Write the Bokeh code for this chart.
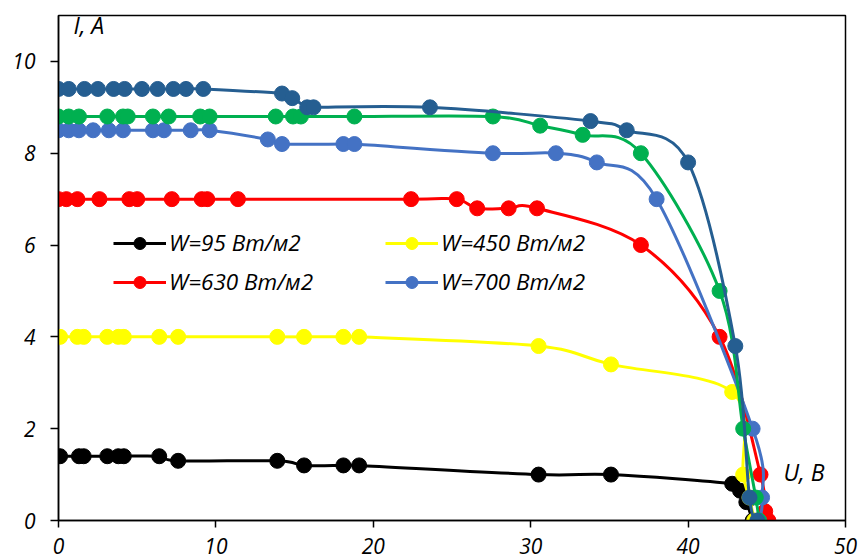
import numpy as np
from bokeh.plotting import figure
from bokeh.models import Legend, LegendItem, Label, FixedTicker, Range1d
from bokeh.embed import file_html
from bokeh.resources import INLINE

# ---- data (U, V ; I, A) ----
u95 = [0.1, 1.3, 1.6, 3.1, 3.8, 4.15, 6.4, 7.6, 13.9, 15.6, 18.1, 19.1, 30.5, 35.1, 42.8, 43.3, 43.7, 44.1]
i95 = [1.4, 1.4, 1.4, 1.4, 1.4, 1.4, 1.4, 1.3, 1.3, 1.2, 1.2, 1.2, 1.0, 1.0, 0.8, 0.65, 0.4, 0.0]

u450 = [0.1, 1.2, 1.6, 3.1, 3.8, 4.15, 6.4, 7.6, 13.9, 15.6, 18.1, 19.1, 30.5, 35.1, 42.8, 43.5, 43.9, 44.2]
i450 = [4.0, 4.0, 4.0, 4.0, 4.0, 4.0, 4.0, 4.0, 4.0, 4.0, 4.0, 4.0, 3.8, 3.4, 2.8, 1.0, 0.5, 0.0]

u630 = [0.0, 0.5, 1.2, 2.6, 4.5, 5.0, 7.2, 9.1, 9.45, 11.4, 22.4, 25.3, 26.6, 28.6, 30.4, 37.0, 42.0, 44.6, 44.9, 45.1]
i630 = [7.0, 7.0, 7.0, 7.0, 7.0, 7.0, 7.0, 7.0, 7.0, 7.0, 7.0, 7.0, 6.8, 6.8, 6.8, 6.0, 4.0, 1.0, 0.2, 0.0]

u700 = [0.0, 0.65, 1.3, 2.2, 3.2, 4.1, 6.0, 6.7, 8.4, 9.6, 13.3, 14.2, 18.1, 18.8, 27.6, 31.6, 34.2, 38.0, 44.1, 44.7, 44.5]
i700 = [8.5, 8.5, 8.5, 8.5, 8.5, 8.5, 8.5, 8.5, 8.5, 8.5, 8.3, 8.2, 8.2, 8.2, 8.0, 8.0, 7.8, 7.0, 2.0, 0.5, 0.0]

u_green = [0.0, 0.65, 1.3, 3.1, 4.1, 4.4, 6.0, 7.0, 9.0, 9.6, 13.8, 14.9, 15.4, 18.8, 27.6, 30.6, 33.3, 37.0, 42.0, 43.5, 44.3, 44.5]
i_green = [8.8, 8.8, 8.8, 8.8, 8.8, 8.8, 8.8, 8.8, 8.8, 8.8, 8.8, 8.8, 8.8, 8.8, 8.8, 8.6, 8.4, 8.0, 5.0, 2.0, 0.5, 0.0]

u_dark = [0.0, 0.65, 1.65, 2.5, 3.5, 4.2, 5.3, 6.3, 7.3, 8.1, 9.2, 14.2, 14.85, 15.8, 16.2, 23.6, 33.8, 36.1, 40.0, 43.0, 43.9, 44.4]
i_dark = [9.4, 9.4, 9.4, 9.4, 9.4, 9.4, 9.4, 9.4, 9.4, 9.4, 9.4, 9.3, 9.2, 9.0, 9.0, 9.0, 8.7, 8.5, 7.8, 3.8, 0.5, 0.0]

series = [
    ("W=95 Вт/м2", u95, i95, "#000000", True),
    ("W=450 Вт/м2", u450, i450, "#FFFF00", True),
    ("W=630 Вт/м2", u630, i630, "#FF0000", True),
    ("W=700 Вт/м2", u700, i700, "#4472C4", True),
    ("", u_green, i_green, "#00B050", False),
    ("", u_dark, i_dark, "#255E91", False),
]

x_ticks = [0, 10, 20, 30, 40, 50]
y_ticks = [0, 2, 4, 6, 8, 10]

FONT = "Open Sans"


def bezier_controls(x, y, t=1.0 / 6.0):
    """Smoothed-line control points (Catmull-Rom style) for segments between data points."""
    x = np.asarray(x, float)
    y = np.asarray(y, float)
    n = len(x)
    xp = np.concatenate([[x[0]], x, [x[-1]]])
    yp = np.concatenate([[y[0]], y, [y[-1]]])
    cx0 = x[:-1] + (xp[2:n + 1] - xp[0:n - 1]) * t
    cy0 = y[:-1] + (yp[2:n + 1] - yp[0:n - 1]) * t
    cx1 = x[1:] - (xp[3:n + 2] - xp[1:n]) * t
    cy1 = y[1:] - (yp[3:n + 2] - yp[1:n]) * t
    return dict(x0=x[:-1], y0=y[:-1], x1=x[1:], y1=y[1:], cx0=cx0, cy0=cy0, cx1=cx1, cy1=cy1)


p = figure(frame_width=787, frame_height=505,
           min_border_left=58, min_border_right=14, min_border_top=15, min_border_bottom=40,
           x_range=Range1d(0, 50), y_range=Range1d(0, 11),
           output_backend="svg", toolbar_location=None)
p.background_fill_color = "white"
p.border_fill_color = "white"
p.outline_line_color = "black"
p.outline_line_width = 1.5
p.xgrid.visible = False
p.ygrid.visible = False

for ax, ticks, standoff, tick_out in ((p.xaxis, x_ticks, 10, 7), (p.yaxis, y_ticks, 15, 8)):
    ax.ticker = FixedTicker(ticks=ticks)
    ax.axis_line_color = "black"
    ax.axis_line_width = 1.5
    ax.major_tick_line_color = "black"
    ax.major_tick_line_width = 1.5
    ax.major_tick_out = tick_out
    ax.major_tick_in = 0
    ax.minor_tick_out = 0
    ax.minor_tick_in = 0
    ax.major_label_text_font = FONT
    ax.major_label_text_font_style = "italic"
    ax.major_label_text_font_size = "21px"
    ax.major_label_text_color = "black"
    ax.major_label_standoff = standoff

items = {}
for name, u, i, color, in_legend in series:
    seg = bezier_controls(u, i)
    r_line = p.bezier(x0=seg["x0"], y0=seg["y0"], x1=seg["x1"], y1=seg["y1"],
                      cx0=seg["cx0"], cy0=seg["cy0"], cx1=seg["cx1"], cy1=seg["cy1"],
                      line_color=color, line_width=3)
    r_pts = p.scatter(u, i, marker="circle", size=15, fill_color=color, line_color=color)
    if in_legend:
        items[name] = LegendItem(label=name, renderers=[r_line, r_pts])


def make_legend(names, x):
    lg = Legend(items=[items[n] for n in names], location=(x, 223),
                orientation="vertical", glyph_width=53, glyph_height=30,
                label_standoff=3, spacing=8, padding=0, margin=0,
                label_text_font=FONT, label_text_font_style="italic",
                label_text_font_size="22.5px", label_text_color="black",
                background_fill_alpha=0, border_line_alpha=0)
    p.add_layout(lg, "center")


make_legend(["W=95 Вт/м2", "W=630 Вт/м2"], 55)
make_legend(["W=450 Вт/м2", "W=700 Вт/м2"], 327)

p.add_layout(Label(x=0.95, y=10.8, text="I, А", text_font=FONT, text_font_style="italic",
                   text_font_size="23px", text_color="black", text_baseline="alphabetic"))
p.add_layout(Label(x=46.06, y=1.05, text="U, В", text_font=FONT, text_font_style="italic",
                   text_font_size="23px", text_color="black", text_baseline="alphabetic"))

open("out.html", "w").write(file_html(p, INLINE))
